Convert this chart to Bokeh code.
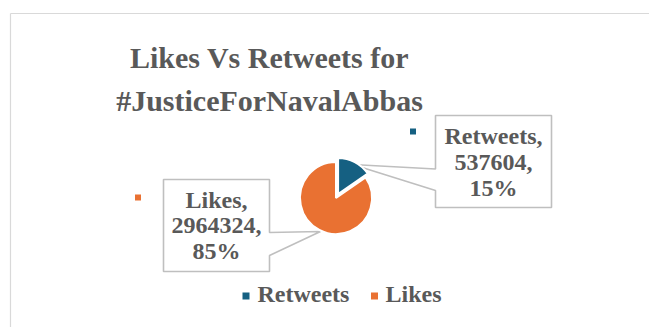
import numpy as np
from bokeh.plotting import figure
from bokeh.models import Range1d
from bokeh.core.properties import value
from bokeh.embed import file_html
from bokeh.resources import INLINE

# ---- data ----
categories = ["Retweets", "Likes"]
values = [537604, 2964324]
colors = ["#156082", "#E97132"]
title_lines = ["Likes Vs Retweets for", "#JusticeForNavalAbbas"]

# ---- layout helpers (reference pixel coords -> figure data coords) ----
W, H = 649, 327
def X(xr):
    return xr
def Y(yr):
    return H - yr

TXT = "#595959"
FONT = value("'Liberation Serif', 'Times New Roman', serif")

def put_text(xr, base_yr, txt, size, align="center"):
    # place text by its alphabetic baseline (in reference pixels) using a
    # middle anchor at baseline - 0.34em
    p.text(x=[X(xr)], y=[Y(base_yr - 0.34 * size)], text=[txt], text_font=FONT,
           text_font_style="bold", text_font_size=f"{size}px", text_color=TXT,
           text_align=align, text_baseline="middle")

p = figure(width=W, height=H, x_range=Range1d(0, W), y_range=Range1d(0, H),
           output_backend="svg", toolbar_location=None,
           x_axis_type=None, y_axis_type=None, min_border=0,
           outline_line_color=None)
p.grid.visible = False
p.background_fill_color = "white"
p.border_fill_color = "white"

# chart area border (left and top edges visible)
p.multi_line(xs=[[X(10), X(10)], [X(10), W + 5]],
             ys=[[Y(13), -5], [Y(13), Y(13)]],
             line_color="#d9d9d9", line_width=1.2)

# ---- title ----
for line, yr in zip(title_lines, [67, 110]):
    put_text(269, yr, line, 30)

# ---- pie ----
total = float(sum(values))
frac = np.array(values, dtype=float) / total
cum = np.concatenate([[0.0], np.cumsum(frac)])
start = np.pi / 2 - 2 * np.pi * cum[1:]
end = np.pi / 2 - 2 * np.pi * cum[:-1]
mid = (start + end) / 2
explode = np.array([4.5, 0.0])
pcx, pcy, R = X(335.5), Y(197.5), 36
cx = pcx + explode * np.cos(mid)
cy = pcy + explode * np.sin(mid)

# ---- callout shapes (drawn before the pie) ----
callouts = {
    "Retweets": [(435, 115), (551, 115), (551, 207), (435, 207), (435, 190),
                 (352, 164), (435, 168.5)],
    "Likes": [(163, 179), (269, 179), (269, 232), (320, 231), (269, 255),
              (269, 271), (163, 271)],
}
for cat in categories:
    pts = callouts[cat]
    p.patch(x=[X(a) for a, b in pts], y=[Y(b) for a, b in pts],
            fill_color="white", line_color="#bfbfbf", line_width=1.6)

p.wedge(x=cx, y=cy, radius=R, start_angle=start, end_angle=end,
        direction="anticlock", fill_color=colors, line_color="white",
        line_width=2)

# ---- data labels ----
label_pos = {"Retweets": (493, [143.5, 170, 196]),
             "Likes": (216, [207.5, 233, 258.5])}
key_pos = {"Retweets": (412.5, 131), "Likes": (137.5, 197)}
for cat, val, fr, col in zip(categories, values, frac, colors):
    xr, ys = label_pos[cat]
    lines = [f"{cat},", f"{val},", f"{int(round(fr * 100))}%"]
    for ln, yr in zip(lines, ys):
        put_text(xr, yr, ln, 24)
    kx, ky = key_pos[cat]
    p.scatter(x=[X(kx)], y=[Y(ky)], marker="square", size=6,
              fill_color=col, line_color=None)

# ---- bottom legend ----
leg_sq = {"Retweets": 245.5, "Likes": 374}
leg_tx = {"Retweets": 257, "Likes": 385}
for cat, col in zip(categories, colors):
    p.scatter(x=[X(leg_sq[cat])], y=[Y(295.5)], marker="square", size=7,
              fill_color=col, line_color=None)
    put_text(leg_tx[cat], 302, cat, 24, align="left")

open("out.html", "w").write(file_html(p, INLINE))
